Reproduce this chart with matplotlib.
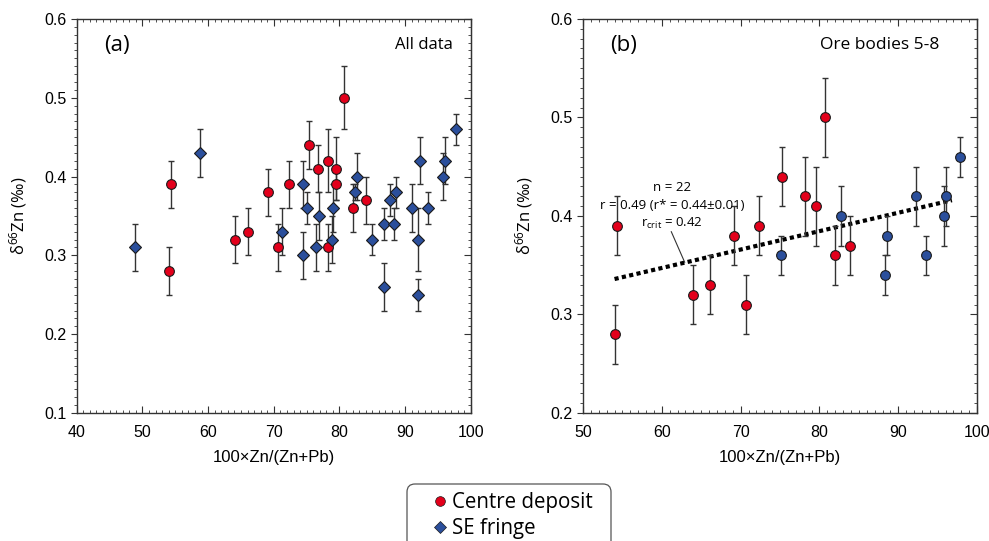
import numpy as np
import matplotlib
matplotlib.use('Agg')
import matplotlib.pyplot as plt
from matplotlib.ticker import MultipleLocator
from matplotlib.lines import Line2D
from matplotlib.patches import FancyBboxPatch

plt.rcParams['font.family'] = ['Liberation Sans', 'DejaVu Sans']
plt.rcParams['mathtext.default'] = 'regular'

# painel (a) - todos os dados
centro_x = [54.35, 54.1, 64.1, 66.1, 69.1, 70.6, 72.35, 75.35, 76.8, 78.3, 78.3, 79.5, 79.5, 80.7, 82.0, 84.0]
centro_y = [0.39, 0.28, 0.32, 0.33, 0.38, 0.31, 0.39, 0.44, 0.41, 0.42, 0.31, 0.41, 0.39, 0.50, 0.36, 0.37]
centro_err = [0.03, 0.03, 0.03, 0.03, 0.03, 0.03, 0.03, 0.03, 0.03, 0.04, 0.03, 0.04, 0.02, 0.04, 0.03, 0.03]

franja_x = [48.9, 58.8, 71.2, 74.4, 74.4, 75.0, 76.4, 76.9, 78.9, 78.95, 82.4, 82.7, 84.9,
            86.7, 86.7, 87.7, 88.3, 88.6, 91.0, 91.9, 91.9, 92.2, 93.5, 95.7, 96.0, 97.7]
franja_y = [0.31, 0.43, 0.33, 0.39, 0.30, 0.36, 0.31, 0.35, 0.32, 0.36, 0.38, 0.40, 0.32,
            0.34, 0.26, 0.37, 0.34, 0.38, 0.36, 0.32, 0.25, 0.42, 0.36, 0.40, 0.42, 0.46]
franja_err = [0.03, 0.03, 0.03, 0.03, 0.03, 0.02, 0.03, 0.03, 0.03, 0.03, 0.01, 0.03, 0.02,
              0.02, 0.03, 0.02, 0.02, 0.02, 0.03, 0.04, 0.02, 0.03, 0.02, 0.03, 0.03, 0.02]

# painel (b) - corpos de minerio 5-8
centro_b_x = [54.3, 54.0, 64.0, 66.1, 69.1, 70.7, 72.3, 75.3, 78.2, 79.5, 80.7, 82.0, 83.9]
centro_b_y = [0.39, 0.28, 0.32, 0.33, 0.38, 0.31, 0.39, 0.44, 0.42, 0.41, 0.50, 0.36, 0.37]
centro_b_err = [0.03, 0.03, 0.03, 0.03, 0.03, 0.03, 0.03, 0.03, 0.04, 0.04, 0.04, 0.03, 0.03]

franja_b_x = [75.1, 82.75, 88.3, 88.6, 92.3, 93.5, 95.8, 96.1, 97.8]
franja_b_y = [0.36, 0.40, 0.34, 0.38, 0.42, 0.36, 0.40, 0.42, 0.46]
franja_b_err = [0.02, 0.03, 0.02, 0.02, 0.03, 0.02, 0.03, 0.03, 0.02]

# linha de tendencia (extremos)
tendencia_x = [54.0, 96.8]
tendencia_y = [0.336, 0.416]

VERMELHO = '#e3001b'
AZUL = '#2b4f9c'
FONTE_TEXTO = ['Open Sans', 'DejaVu Sans']
TAM_CIRCULO = 7.0
TAM_LOSANGO = 5.8


def pontos(ax, x, y, err, cor, marcador, tam):
    ax.errorbar(x, y, yerr=err, fmt='none', ecolor='#333333', elinewidth=1.0,
                capsize=2.0, capthick=1.0, zorder=2)
    ax.plot(x, y, linestyle='none', marker=marcador, markersize=tam,
            markerfacecolor=cor, markeredgecolor='#1a1a1a', markeredgewidth=0.8, zorder=3)


def formatar_eixos(ax, xlim, ylim):
    ax.set_xlim(*xlim)
    ax.set_ylim(*ylim)
    ax.xaxis.set_major_locator(MultipleLocator(10))
    ax.xaxis.set_minor_locator(MultipleLocator(1))
    ax.yaxis.set_major_locator(MultipleLocator(0.1))
    ax.yaxis.set_minor_locator(MultipleLocator(0.01))
    ax.yaxis.set_major_formatter(plt.FuncFormatter(lambda v, p: f'{v:.1f}'))
    ax.tick_params(axis='x', which='both', direction='in', top=True, labelsize=11.5,
                   colors='#333333', labelcolor='black', pad=9)
    ax.tick_params(axis='x', which='major', length=5)
    ax.tick_params(axis='x', which='minor', length=2.5)
    ax.tick_params(axis='y', which='both', direction='out', right=False, labelsize=11.5,
                   colors='#333333', labelcolor='black')
    ax.tick_params(axis='y', which='major', length=4)
    ax.tick_params(axis='y', which='minor', length=2.5)
    direita = ax.secondary_yaxis('right')
    direita.yaxis.set_major_locator(MultipleLocator(0.1))
    direita.yaxis.set_minor_locator(MultipleLocator(0.01))
    direita.tick_params(which='both', direction='in', labelright=False, colors='#333333')
    direita.tick_params(which='major', length=5)
    direita.tick_params(which='minor', length=2.5)
    direita.spines['right'].set_color('#333333')
    for s in ax.spines.values():
        s.set_color('#333333')
        s.set_linewidth(1.0)
    ax.set_xlabel('100×Zn/(Zn+Pb)', fontsize=12, labelpad=7)
    ax.set_ylabel('δ$^{66}$Zn (‰)', fontsize=12, family=FONTE_TEXTO)
    ax.yaxis.set_label_coords(-0.122, 0.5)


def main():
    fig = plt.figure(figsize=(9.89, 5.41), dpi=100)
    ax1 = fig.add_axes([0.0776, 0.2366, 0.3985, 0.7284])
    ax2 = fig.add_axes([0.5895, 0.2366, 0.3985, 0.7284])

    pontos(ax1, centro_x, centro_y, centro_err, VERMELHO, 'o', TAM_CIRCULO)
    pontos(ax1, franja_x, franja_y, franja_err, AZUL, 'D', TAM_LOSANGO)
    formatar_eixos(ax1, (40, 100), (0.1, 0.6))
    ax1.text(0.07, 0.933, '(a)', transform=ax1.transAxes, fontsize=16, family=FONTE_TEXTO,
             ha='left', va='center')
    ax1.text(0.955, 0.935, 'All data', transform=ax1.transAxes, fontsize=12, family=FONTE_TEXTO,
             ha='right', va='center')

    ax2.plot(tendencia_x, tendencia_y, linestyle=(0, (1, 0.8)), color='black', linewidth=3, zorder=1)
    pontos(ax2, centro_b_x, centro_b_y, centro_b_err, VERMELHO, 'o', TAM_CIRCULO)
    pontos(ax2, franja_b_x, franja_b_y, franja_b_err, AZUL, 'o', TAM_CIRCULO)
    formatar_eixos(ax2, (50, 100), (0.2, 0.6))
    ax2.text(0.07, 0.933, '(b)', transform=ax2.transAxes, fontsize=16, family=FONTE_TEXTO,
             ha='left', va='center')
    ax2.text(0.905, 0.935, 'Ore bodies 5-8', transform=ax2.transAxes, fontsize=12.5,
             family=FONTE_TEXTO, ha='right', va='center')
    ax2.text(61.3, 0.429, 'n = 22', fontsize=9.5, family=FONTE_TEXTO, ha='center', va='center')
    ax2.text(61.3, 0.411, 'r = 0.49 (r* = 0.44±0.01)', fontsize=9.5, family=FONTE_TEXTO,
             ha='center', va='center')
    ax2.text(61.3, 0.392, 'r$_{crit}$ = 0.42', fontsize=9.5, family=FONTE_TEXTO,
             ha='center', va='center')
    ax2.plot([61.2, 62.9], [0.384, 0.353], color='#333333', linewidth=0.8)

    # caixa da legenda (cortada pela borda de baixo, como no original)
    caixa = FancyBboxPatch((4.07, -0.25), 2.04, 0.82, boxstyle='round,pad=0,rounding_size=0.08',
                           transform=fig.dpi_scale_trans, facecolor='white', edgecolor='#555555',
                           linewidth=0.9)
    fig.patches.append(caixa)

    alcas = [
        Line2D([], [], linestyle='none', marker='o', markersize=TAM_CIRCULO, markerfacecolor=VERMELHO,
               markeredgecolor='#1a1a1a', markeredgewidth=0.5, label='Centre deposit'),
        Line2D([], [], linestyle='none', marker='D', markersize=TAM_LOSANGO, markerfacecolor=AZUL,
               markeredgecolor='#1a1a1a', markeredgewidth=0.5, label='SE fringe'),
    ]
    fig.legend(handles=alcas, loc='upper left', bbox_to_anchor=(434 / 989, 1 - 492 / 541),
               prop={'family': FONTE_TEXTO, 'size': 14.8}, frameon=False,
               handletextpad=0.28, handlelength=0.6, labelspacing=0.26,
               borderpad=0, borderaxespad=0)

    fig.savefig('out.png', dpi=100)


if __name__ == "__main__":
    main()
